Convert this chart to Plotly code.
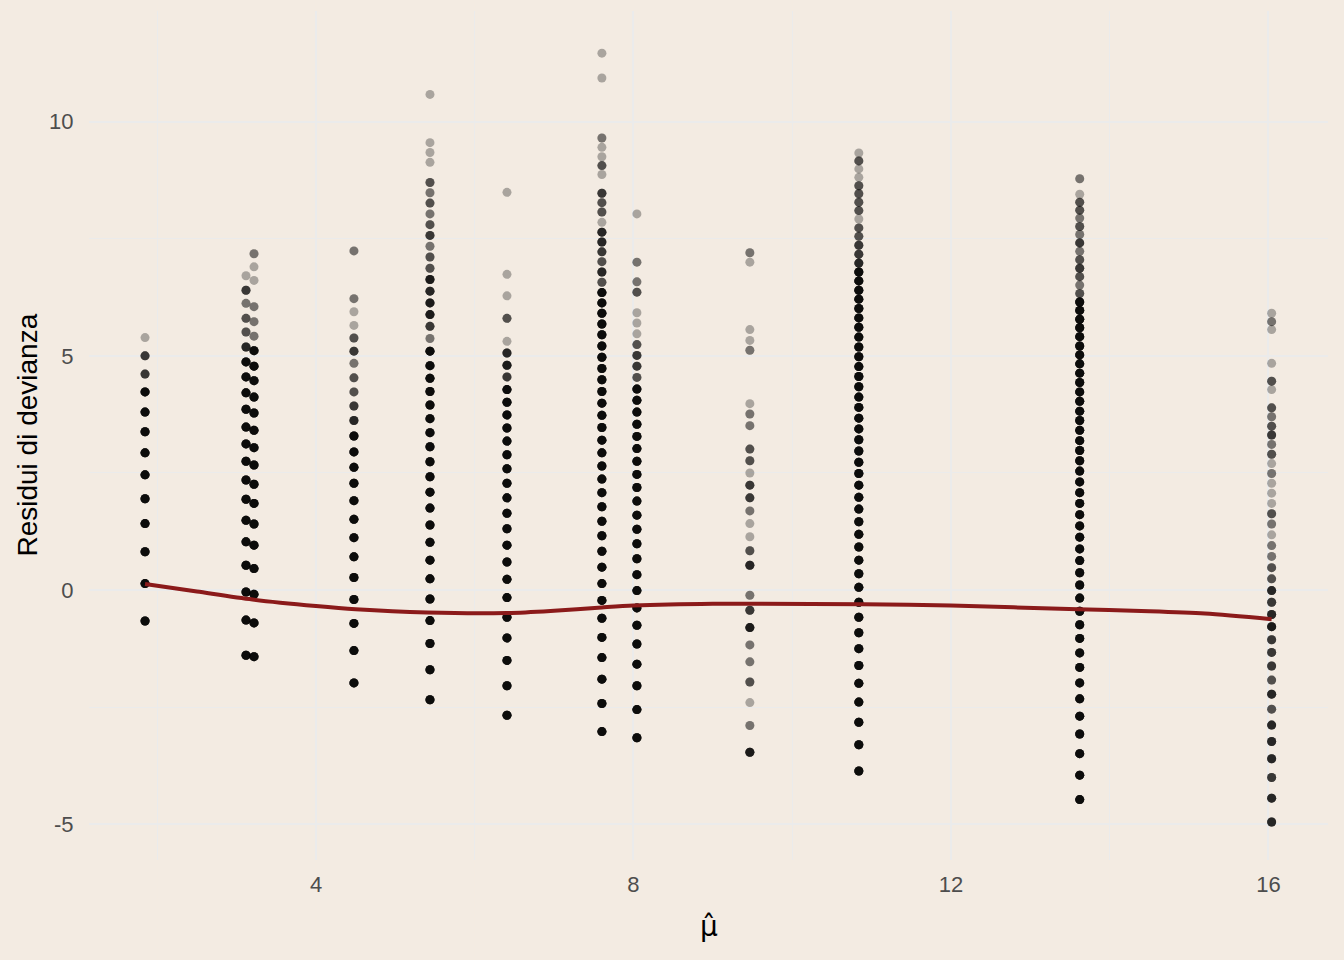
import plotly.graph_objects as go

# fitted values (x) of each vertical column of residuals
mu_hat = [1.846, 3.118, 3.219, 4.478, 5.436, 6.406, 7.602, 8.043, 9.466, 10.839, 13.622, 16.040]

# deviance residuals per column (bottom -> top) and how many observations sit on each value
res_01 = [-0.66, 0.14, 0.82, 1.42, 1.95, 2.46, 2.93, 3.38, 3.80, 4.23, 4.61, 5.00, 5.39]
cnt_01 = [8, 8, 8, 8, 8, 8, 8, 8, 8, 8, 4, 4, 1]

res_02 = [-1.39, -0.64, -0.04, 0.53, 1.03, 1.49, 1.94, 2.35, 2.75, 3.12, 3.48, 3.86, 4.21, 4.55,
          4.87, 5.19, 5.51, 5.80, 6.12, 6.40, 6.71]
cnt_02 = [8, 8, 8, 8, 8, 8, 8, 8, 8, 8, 8, 8, 8, 8, 8, 5, 3, 3, 2, 4, 1]

res_03 = [-1.42, -0.70, -0.09, 0.46, 0.96, 1.41, 1.85, 2.26, 2.67, 3.04, 3.41, 3.78, 4.12, 4.47,
          4.78, 5.11, 5.42, 5.73, 6.05, 6.61, 6.90, 7.18]
cnt_03 = [8, 8, 8, 8, 8, 8, 8, 8, 8, 8, 8, 8, 8, 8, 8, 8, 2, 2, 2, 1, 1, 2]

res_04 = [-1.98, -1.29, -0.71, -0.20, 0.27, 0.71, 1.12, 1.51, 1.91, 2.28, 2.62, 2.95, 3.29, 3.62,
          3.93, 4.23, 4.53, 4.84, 5.10, 5.38, 5.65, 5.94, 6.22, 7.24]
cnt_04 = [8, 8, 8, 8, 8, 8, 8, 8, 8, 8, 8, 8, 8, 5, 4, 3, 3, 2, 4, 3, 1, 1, 2, 2]

res_05 = [-2.34, -1.70, -1.14, -0.65, -0.19, 0.24, 0.64, 1.02, 1.39, 1.75, 2.09, 2.42, 2.74, 3.06,
          3.36, 3.66, 3.95, 4.24, 4.52, 4.79, 5.10, 5.37, 5.63, 5.88, 6.13, 6.38, 6.63, 6.87, 7.11,
          7.34, 7.57, 7.80, 8.03, 8.26, 8.48, 8.70, 9.13, 9.34, 9.55, 10.58]
cnt_05 = [8, 8, 8, 8, 8, 8, 8, 8, 8, 8, 8, 8, 8, 8, 8, 8, 8, 8, 8, 8, 8, 2, 4, 6, 6, 5, 6, 3, 3,
          2, 4, 3, 2, 3, 2, 3, 1, 1, 1, 1]

res_06 = [-2.67, -2.04, -1.50, -1.02, -0.58, -0.16, 0.23, 0.60, 0.96, 1.31, 1.64, 1.97, 2.28, 2.59,
          2.89, 3.18, 3.46, 3.74, 4.01, 4.28, 4.55, 4.80, 5.06, 5.31, 5.80, 6.28, 6.74, 8.49]
cnt_06 = [8, 8, 8, 8, 8, 8, 8, 8, 8, 8, 8, 8, 8, 8, 8, 8, 8, 8, 8, 8, 4, 6, 5, 1, 3, 1, 1, 1]

res_07 = [-3.02, -2.42, -1.90, -1.44, -1.01, -0.60, -0.22, 0.14, 0.49, 0.83, 1.16, 1.47, 1.78, 2.08,
          2.37, 2.65, 2.93, 3.20, 3.47, 3.73, 3.99, 4.24, 4.49, 4.73, 4.97, 5.21, 5.45, 5.68, 5.91,
          6.13, 6.35, 6.57, 6.79, 7.01, 7.22, 7.43, 7.64, 7.85, 8.07, 8.27, 8.47, 8.87, 9.06, 9.25,
          9.45, 9.65, 10.93, 11.46]
cnt_07 = [8, 8, 8, 8, 8, 8, 8, 8, 8, 8, 8, 8, 8, 8, 8, 8, 8, 8, 8, 8, 8, 8, 8, 8, 8, 8, 8, 8, 8,
          8, 8, 3, 5, 3, 4, 5, 5, 1, 3, 3, 4, 1, 3, 1, 1, 2, 1, 1]

res_08 = [-3.15, -2.55, -2.04, -1.58, -1.15, -0.75, -0.38, -0.01, 0.33, 0.67, 0.99, 1.30, 1.60, 1.90,
          2.19, 2.47, 2.75, 3.02, 3.28, 3.54, 3.80, 4.05, 4.29, 4.54, 4.78, 5.01, 5.24, 5.47, 5.70,
          5.92, 6.36, 6.58, 7.00, 8.03]
cnt_08 = [8, 8, 8, 8, 8, 8, 8, 8, 8, 8, 8, 8, 8, 8, 8, 8, 8, 8, 8, 8, 8, 8, 8, 3, 4, 4, 3, 1, 1,
          1, 3, 2, 2, 1]

res_09 = [-3.46, -2.89, -2.40, -1.96, -1.53, -1.17, -0.80, -0.43, -0.11, 0.53, 0.84, 1.14, 1.42, 1.69,
          1.97, 2.24, 2.50, 2.76, 3.01, 3.51, 3.76, 3.98, 5.12, 5.33, 5.56, 7.00, 7.20]
cnt_09 = [6, 2, 1, 3, 2, 2, 6, 4, 2, 5, 3, 1, 1, 2, 4, 4, 1, 3, 3, 2, 2, 1, 2, 1, 1, 1, 2]

res_10 = [-3.86, -3.30, -2.82, -2.39, -1.99, -1.61, -1.25, -0.91, -0.58, -0.26, 0.06, 0.35, 0.64, 0.92,
          1.19, 1.46, 1.73, 1.98, 2.24, 2.49, 2.73, 2.97, 3.21, 3.44, 3.67, 3.90, 4.12, 4.34, 4.56,
          4.77, 4.98, 5.19, 5.40, 5.61, 5.81, 6.01, 6.21, 6.40, 6.60, 6.79, 6.98, 7.17, 7.36, 7.55,
          7.73, 7.92, 8.10, 8.28, 8.46, 8.63, 8.81, 8.99, 9.16, 9.33]
cnt_10 = [8] * 40 + [5, 4, 4, 3, 3, 1, 3, 3, 3, 3, 1, 1, 3, 1]

res_11 = [-4.47, -3.95, -3.49, -3.07, -2.69, -2.32, -1.98, -1.65, -1.34, -1.03, -0.74, -0.45, -0.17, 0.11,
          0.37, 0.63, 0.88, 1.13, 1.37, 1.61, 1.85, 2.08, 2.31, 2.54, 2.76, 2.98, 3.19, 3.41, 3.62,
          3.82, 4.03, 4.23, 4.43, 4.63, 4.83, 5.02, 5.21, 5.41, 5.60, 5.78, 5.97, 6.15, 6.33, 6.51,
          6.69, 6.87, 7.05, 7.23, 7.41, 7.59, 7.76, 7.94, 8.11, 8.28, 8.45, 8.78]
cnt_11 = [8] * 42 + [3, 2, 3, 4, 3, 2, 4, 2, 3, 2, 3, 3, 1, 2]

res_12 = [-4.95, -4.44, -4.00, -3.60, -3.23, -2.88, -2.54, -2.22, -1.92, -1.62, -1.33, -1.06, -0.78,
          -0.52, -0.26, -0.01, 0.24, 0.48, 0.72, 0.95, 1.18, 1.41, 1.63, 1.85, 2.07, 2.28, 2.49, 2.70,
          2.90, 3.11, 3.31, 3.50, 3.70, 3.89, 4.28, 4.46, 4.84, 5.56, 5.73, 5.91]
cnt_12 = [5, 5, 4, 5, 5, 5, 3, 5, 3, 4, 4, 4, 6, 5, 4, 5, 3, 3, 2, 2, 1, 2, 3, 1, 1, 1, 2, 1, 3, 2,
          4, 3, 2, 3, 1, 3, 1, 1, 2, 1]

# loess smoother
smooth_x = [1.846, 2.5, 3.2, 4.0, 4.5, 5.4, 6.4, 7.0, 7.6, 8.0, 9.0, 9.5, 10.9, 12.0, 13.6, 14.5, 15.2, 16.04]
smooth_y = [0.13, -0.03, -0.20, -0.34, -0.41, -0.48, -0.49, -0.44, -0.37, -0.33, -0.29, -0.29, -0.30,
            -0.33, -0.41, -0.45, -0.50, -0.62]

x_ticks = [4, 8, 12, 16]
y_ticks = [-5, 0, 5, 10]
y_tick_labels = ["-5", "0", "5", "10"]

residuals = [res_01, res_02, res_03, res_04, res_05, res_06, res_07, res_08, res_09, res_10, res_11, res_12]
counts = [cnt_01, cnt_02, cnt_03, cnt_04, cnt_05, cnt_06, cnt_07, cnt_08, cnt_09, cnt_10, cnt_11, cnt_12]

xs, ys = [], []
for m, r, c in zip(mu_hat, residuals, counts):
    for v, n in zip(r, c):
        xs += [m] * n
        ys += [v] * n

BG = "#F3EBE2"
GRID = "#EBEBEB"
FONT = "Liberation Sans, Arial, sans-serif"

fig = go.Figure()
fig.add_trace(go.Scatter(
    x=xs, y=ys, mode="markers",
    marker=dict(size=9, color="black", opacity=0.3, line=dict(width=0)),
    hoverinfo="skip", showlegend=False,
))
fig.add_trace(go.Scatter(
    x=smooth_x, y=smooth_y, mode="lines",
    line=dict(color="#8B1A1A", width=4, shape="spline", smoothing=0.8),
    hoverinfo="skip", showlegend=False,
))

fig.update_layout(
    template="none",
    width=1344, height=960,
    paper_bgcolor=BG, plot_bgcolor=BG,
    margin=dict(l=89, r=16, t=11, b=100, autoexpand=False),
    showlegend=False,
    font=dict(family=FONT),
    xaxis=dict(
        range=[1.14, 16.75], tickvals=x_ticks, ticktext=[str(t) for t in x_ticks],
        showgrid=True, gridcolor=GRID, gridwidth=1.6, zeroline=False, showline=False,
        ticks="outside", ticklen=5, tickcolor="rgba(0,0,0,0)",
        tickfont=dict(size=22, color="#4D4D4D", family=FONT),
        minor=dict(tickvals=[2, 6, 10, 14], showgrid=True, gridcolor=GRID, gridwidth=0.8, ticks=""),
        automargin=False,
    ),
    yaxis=dict(
        range=[-5.76, 12.36], tickvals=y_ticks, ticktext=y_tick_labels,
        showgrid=True, gridcolor=GRID, gridwidth=1.6, zeroline=False, showline=False,
        ticks="outside", ticklen=10, tickcolor="rgba(0,0,0,0)",
        tickfont=dict(size=22, color="#4D4D4D", family=FONT),
        minor=dict(tickvals=[-2.5, 2.5, 7.5], showgrid=True, gridcolor=GRID, gridwidth=0.8, ticks=""),
        automargin=False,
    ),
    annotations=[
        dict(text="Residui di devianza", xref="paper", yref="paper", x=-0.05, y=0.5,
             textangle=-90, showarrow=False, xanchor="center", yanchor="middle",
             font=dict(size=28, color="black", family=FONT)),
        dict(text="\u03bc\u0302", xref="paper", yref="paper", x=0.5, y=-0.078,
             showarrow=False, xanchor="center", yanchor="middle",
             font=dict(size=28, color="black", family="DejaVu Sans")),
    ],
)

fig.write_html(
    "out.html",
    config={"displayModeBar": False},
    post_script="document.body.style.margin='0';document.body.style.background='" + BG + "';",
)
